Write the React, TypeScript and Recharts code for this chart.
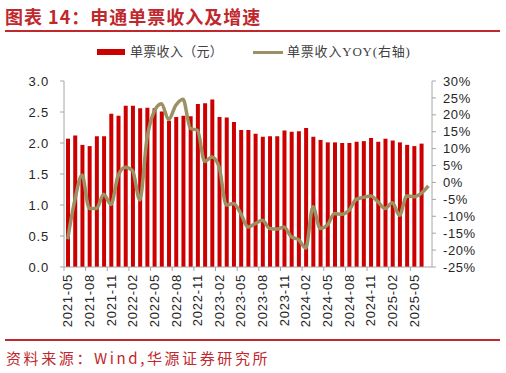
import React from "react";
import { ComposedChart, Bar, Line, XAxis, YAxis } from "recharts";

const months = [
  "2021-05", "2021-06", "2021-07", "2021-08", "2021-09", "2021-10", "2021-11", "2021-12",
  "2022-01", "2022-02", "2022-03", "2022-04", "2022-05", "2022-06", "2022-07", "2022-08",
  "2022-09", "2022-10", "2022-11", "2022-12", "2023-01", "2023-02", "2023-03", "2023-04",
  "2023-05", "2023-06", "2023-07", "2023-08", "2023-09", "2023-10", "2023-11", "2023-12",
  "2024-01", "2024-02", "2024-03", "2024-04", "2024-05", "2024-06", "2024-07", "2024-08",
  "2024-09", "2024-10", "2024-11", "2024-12", "2025-01", "2025-02", "2025-03", "2025-04",
  "2025-05", "2025-06", "2025-07",
];

const revenue: (number | null)[] = [
  2.07, 2.12, 1.97, 1.95, 2.11, 2.11, 2.47, 2.44, 2.6, 2.6, 2.56, 2.57, 2.56, 2.51, 2.36, 2.42,
  2.44, 2.43, 2.63, 2.64, 2.7, 2.42, 2.41, 2.34, 2.21, 2.21, 2.15, 2.1, 2.11, 2.11, 2.2, 2.18,
  2.19, 2.24, 2.1, 2.05, 2.01, 2.01, 2.0, 2.0, 2.02, 2.03, 2.08, 2.02, 2.07, 2.04, 2.01, 1.97,
  1.95, 1.99, null,
];

const yoy = [
  -16.8, -5.2, 2.2, -7.7, -7.7, -3.5, -6.5, 2.0, 4.5, 3.5, -5.2, 13.0, 21.0, 23.3, 18.6, 22.8,
  24.6, 16.0, 15.4, 6.2, 7.5, 4.5, -6.7, -6.2, -9.2, -13.2, -12.2, -11.2, -13.6, -13.8, -13.2, -16.1,
  -16.9, -19.4, -7.2, -13.6, -12.6, -9.2, -9.4, -8.2, -5.0, -4.4, -4.0, -5.7, -7.7, -6.0, -9.7, -4.0,
  -4.2, -3.2, -1.0,
];

const xTickLabels = [
  "2021-05", "2021-08", "2021-11", "2022-02", "2022-05", "2022-08", "2022-11", "2023-02",
  "2023-05", "2023-08", "2023-11", "2024-02", "2024-05", "2024-08", "2024-11", "2025-02", "2025-05",
];
const leftTicks = [0, 0.5, 1, 1.5, 2, 2.5, 3];
const rightTicks = [-25, -20, -15, -10, -5, 0, 5, 10, 15, 20, 25, 30];

const data = months.map((m, i) => ({ month: m, revenue: revenue[i], yoy: yoy[i] }));

const RED = "#C0282D";
const BAR = "#CC0000";
const OLIVE = "#9C9162";
const AXIS = "#A6A6A6";
const TXT = "#262626";
const BAND = 368 / 51;
const TICK_FONT = "'Liberation Sans', Arial, sans-serif";

function XTick(props: any) {
  const { x, y, payload } = props;
  if (!xTickLabels.includes(payload.value)) return null;
  const ty = y + 7;
  return (
    <g>
      <line x1={x - BAND / 2} x2={x - BAND / 2} y1={y} y2={y + 4} stroke={AXIS} strokeWidth={1} />
      <text
        x={x}
        y={ty}
        transform={`rotate(-90, ${x}, ${ty})`}
        textAnchor="end"
        dy="0.36em"
        fontSize={13}
        letterSpacing={0.8}
        fontFamily={TICK_FONT}
        fill={TXT}
      >
        {payload.value}
      </text>
    </g>
  );
}

export default function App() {
  return (
    <div
      style={{
        position: "absolute",
        left: 0,
        top: 0,
        width: 506,
        height: 373,
        background: "#fff",
        overflow: "hidden",
      }}
    >
      <div
        style={{
          position: "absolute",
          left: 5,
          top: 6,
          fontSize: 18,
          lineHeight: "20px",
          fontWeight: 700,
          color: RED,
          letterSpacing: 1,
          fontFamily: "'Noto Sans CJK SC', sans-serif",
          whiteSpace: "nowrap",
        }}
      >
        图表 14：申通单票收入及增速
      </div>
      <div style={{ position: "absolute", left: 5, top: 30, width: 495, height: 2, background: RED }} />

      <div style={{ position: "absolute", left: 97, top: 49, width: 28, height: 6, background: BAR }} />
      <div
        style={{
          position: "absolute",
          left: 130,
          top: 44,
          fontSize: 13,
          lineHeight: "16px",
          color: "#404040",
          letterSpacing: 0.3,
          fontFamily: "'Liberation Serif', 'Noto Sans CJK SC', serif",
          whiteSpace: "nowrap",
        }}
      >
        单票收入（元）
      </div>
      <div style={{ position: "absolute", left: 253, top: 50.5, width: 30, height: 3, background: OLIVE }} />
      <div
        style={{
          position: "absolute",
          left: 287,
          top: 44,
          fontSize: 13,
          lineHeight: "16px",
          color: "#404040",
          letterSpacing: 0.8,
          fontFamily: "'Liberation Serif', 'Noto Sans CJK SC', serif",
          whiteSpace: "nowrap",
        }}
      >
        单票收入YOY(右轴)
      </div>

      <div style={{ position: "absolute", left: 0, top: 0 }}>
        <ComposedChart
          width={506}
          height={337}
          data={data}
          margin={{ top: 81, right: 0, left: 0, bottom: 0 }}
        >
          <XAxis
            dataKey="month"
            interval={0}
            height={70}
            tickLine={false}
            tickSize={0}
            tickMargin={0}
            axisLine={{ stroke: AXIS }}
            tick={<XTick />}
          />
          <YAxis
            yAxisId="left"
            orientation="left"
            width={64}
            domain={[0, 3]}
            ticks={leftTicks}
            interval={0}
            tickFormatter={(v: number) => v.toFixed(1)}
            tickSize={4}
            tickMargin={11}
            axisLine={{ stroke: AXIS }}
            tickLine={{ stroke: AXIS }}
            tick={{ fontSize: 13, fill: TXT, fontFamily: TICK_FONT, letterSpacing: 0.8 }}
          />
          <YAxis
            yAxisId="right"
            orientation="right"
            width={74}
            domain={[-25, 30]}
            ticks={rightTicks}
            interval={0}
            tickFormatter={(v: number) => `${v}%`}
            tickSize={4}
            tickMargin={7}
            axisLine={{ stroke: AXIS }}
            tickLine={{ stroke: AXIS }}
            tick={{ fontSize: 13, fill: TXT, fontFamily: TICK_FONT, letterSpacing: 0.6 }}
          />
          <Bar yAxisId="left" dataKey="revenue" fill={BAR} barSize={4} isAnimationActive={false} />
          <Line
            yAxisId="right"
            dataKey="yoy"
            type="monotone"
            stroke={OLIVE}
            strokeWidth={3.5}
            dot={false}
            activeDot={false}
            isAnimationActive={false}
          />
        </ComposedChart>
      </div>

      <div style={{ position: "absolute", left: 5, top: 339, width: 495, height: 2, background: RED }} />
      <div
        style={{
          position: "absolute",
          left: 6,
          top: 349,
          fontSize: 15,
          lineHeight: "18px",
          color: RED,
          letterSpacing: 2.6,
          fontFamily: "'Noto Sans CJK SC', sans-serif",
          whiteSpace: "nowrap",
        }}
      >
        资料来源：Wind,华源证券研究所
      </div>
    </div>
  );
}
